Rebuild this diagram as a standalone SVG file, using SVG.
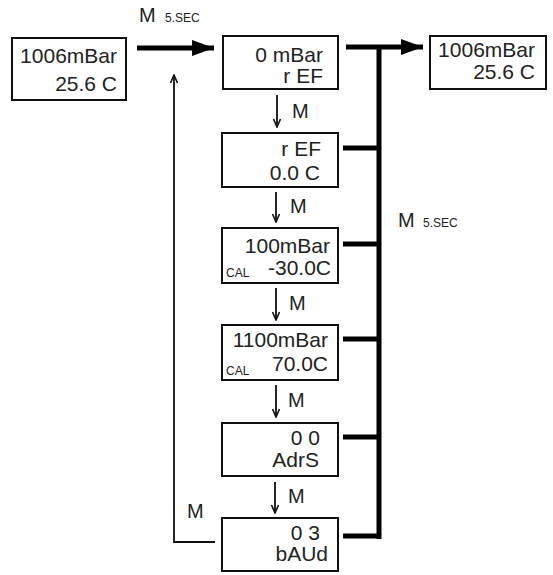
<svg xmlns="http://www.w3.org/2000/svg" width="553" height="575" viewBox="0 0 553 575">
<defs>
<style>
.box{fill:#fff;stroke:#111;stroke-width:2}
.t{font-family:"Liberation Sans",Arial,sans-serif;font-size:21px;fill:#222;text-anchor:end}
.m{font-family:"Liberation Sans",Arial,sans-serif;font-size:20px;fill:#222}
.s{font-family:"Liberation Sans",Arial,sans-serif;font-size:12px;fill:#222}
.thin{fill:none;stroke:#111;stroke-width:1.8}
.thick{fill:none;stroke:#000;stroke-width:5}
</style>
<marker id="open" viewBox="0 0 10 10" refX="9" refY="5" markerWidth="10" markerHeight="10" markerUnits="userSpaceOnUse" orient="auto">
<path d="M1,1.5 L9,5 L1,8.5" fill="none" stroke="#111" stroke-width="1.6"/>
</marker>
<marker id="big" viewBox="0 0 22 16" refX="22" refY="8" markerWidth="22" markerHeight="16" markerUnits="userSpaceOnUse" orient="auto">
<path d="M0,0 L22,8 L0,16 Z" fill="#000"/>
</marker>
</defs>
<rect width="553" height="575" fill="#fff"/>
<g id="connectors">
<line class="thick" x1="137" y1="48" x2="214" y2="48" marker-end="url(#big)"/>
<line class="thick" x1="346" y1="47" x2="423" y2="47" marker-end="url(#big)"/>
<line class="thick" x1="379" y1="45" x2="379" y2="539"/>
<line class="thick" x1="343" y1="148" x2="379" y2="148"/>
<line class="thick" x1="343" y1="244" x2="379" y2="244"/>
<line class="thick" x1="343" y1="339" x2="379" y2="339"/>
<line class="thick" x1="343" y1="437" x2="379" y2="437"/>
<line class="thick" x1="343" y1="536" x2="381" y2="536"/>
<line class="thin" x1="277" y1="95" x2="277" y2="127" marker-end="url(#open)"/>
<line class="thin" x1="276" y1="192" x2="276" y2="222" marker-end="url(#open)"/>
<line class="thin" x1="276" y1="288" x2="276" y2="320" marker-end="url(#open)"/>
<line class="thin" x1="276" y1="385" x2="276" y2="417" marker-end="url(#open)"/>
<line class="thin" x1="275" y1="482" x2="275" y2="513" marker-end="url(#open)"/>
<polyline class="thin" points="215,542 174,542 174,75" marker-end="url(#open)"/>
<text class="m" x="139" y="22">M</text><text class="s" x="165" y="22">5.SEC</text>
<text class="m" x="398" y="227">M</text><text class="s" x="423" y="227">5.SEC</text>
<text class="m" x="292" y="118">M</text>
<text class="m" x="290" y="213">M</text>
<text class="m" x="289" y="310">M</text>
<text class="m" x="288" y="407">M</text>
<text class="m" x="288" y="503">M</text>
<text class="m" x="187" y="518">M</text>
</g>
<g id="n0"><rect class="box" x="12" y="38" width="114" height="62"/>
<text class="t" x="117" y="63">1006mBar</text><text class="t" x="117" y="91">25.6 C</text></g>
<g id="n1"><rect class="box" x="223" y="36" width="115" height="53"/>
<text class="t" x="323" y="62">0 mBar</text><text class="t" x="323" y="83">r EF</text></g>
<g id="n2"><rect class="box" x="222" y="133" width="116" height="54"/>
<text class="t" x="321" y="156">r EF</text><text class="t" x="320" y="180">0.0 C</text></g>
<g id="n3"><rect class="box" x="222" y="228" width="116" height="55"/>
<text class="t" x="330" y="253">100mBar</text><text class="t" x="331" y="275">-30.0C</text>
<text class="s" x="226" y="277">CAL</text></g>
<g id="n4"><rect class="box" x="222" y="325" width="116" height="55"/>
<text class="t" x="328" y="347">1100mBar</text><text class="t" x="328" y="371">70.0C</text>
<text class="s" x="226" y="375">CAL</text></g>
<g id="n5"><rect class="box" x="222" y="423" width="116" height="53"/>
<text class="t" x="320" y="445">0 0</text><text class="t" x="319" y="467">AdrS</text></g>
<g id="n6"><rect class="box" x="222" y="518" width="116" height="53"/>
<text class="t" x="320" y="540">0 3</text><text class="t" x="328" y="561">bAUd</text></g>
<g id="n7"><rect class="box" x="430" y="36" width="116" height="53"/>
<text class="t" x="535" y="57">1006mBar</text><text class="t" x="535" y="79">25.6 C</text></g>
</svg>
